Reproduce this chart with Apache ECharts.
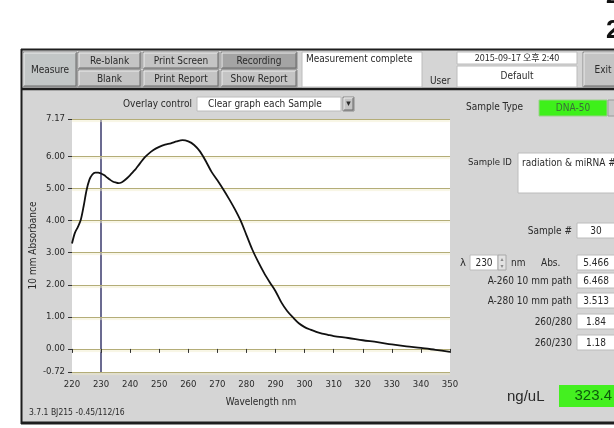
<!DOCTYPE html>
<html>
<head>
<meta charset="utf-8">
<script src="https://cdn.jsdelivr.net/npm/echarts@6/dist/echarts.min.js"></script>
<style>
html,body{margin:0;padding:0;background:#fff;}
#chart{width:614px;height:428px;}
</style>
</head>
<body>
<div id="chart"></div>
<script>
// ---- data ----
const wavelengths = [220,221,222,223,224,225,226,227,228,229,230,231,232,233,234,235,236,237,238,239,240,241,242,243,244,245,246,248,250,252,254,256,258,260,262,264,266,268,270,272,274,276,278,280,282,284,286,288,290,292,294,296,298,300,302,304,306,308,310,315,320,325,330,335,340,345,350];
const absorbance  = [3.29,3.62,3.80,4.02,4.45,4.95,5.28,5.44,5.50,5.50,5.47,5.42,5.35,5.28,5.22,5.19,5.17,5.19,5.25,5.33,5.42,5.52,5.62,5.74,5.86,5.97,6.06,6.20,6.30,6.37,6.41,6.47,6.51,6.47,6.36,6.16,5.86,5.52,5.26,4.98,4.68,4.36,4.00,3.55,3.10,2.72,2.38,2.08,1.80,1.45,1.18,0.98,0.80,0.68,0.60,0.53,0.48,0.44,0.40,0.34,0.27,0.21,0.14,0.08,0.03,-0.03,-0.09];
const yTicks = [-0.72,0,1,2,3,4,5,6,7.17];
const xMin = 220, xMax = 350, xStep = 10;
const yMin = -0.72, yMax = 7.17;
const markerWavelength = 230;

const fieldLabels = ['Sample #','A-260 10 mm path','A-280 10 mm path','260/280','260/230'];
const fieldValues = ['30','6.468','3.513','1.84','1.18'];
const absValue = '5.466';
const concentration = '323.4';

const FONT = "'Liberation Sans Narrow','DejaVu Sans Condensed','Liberation Sans',Arial,sans-serif";
const TXT = '#2a2a2a';

function txt(x,y,text,opts){
  opts = opts||{};
  return {type:'text', x:x, y:y, silent:true, z:opts.z||20, style:{text:text, fill:opts.color||TXT, font:(opts.weight||'normal')+' '+(opts.size||10)+'px '+(opts.family||FONT), align:opts.align||'left', verticalAlign:'middle'}};
}
function rect(x,y,w,h,fill,stroke,lw,z){
  return {type:'rect', shape:{x:x,y:y,width:w,height:h}, silent:true, z:z||10, style:{fill:fill, stroke:stroke||null, lineWidth:lw||1}};
}
function button(x,y,w,h,label,fill){
  return [
    rect(x,y,w,h,fill||'#c4c4c4','#8a8a8a',1,10),
    {type:'polyline', silent:true, z:11, shape:{points:[[x+1,y+h-1],[x+1,y+1],[x+w-1,y+1]]}, style:{stroke:'#ececec',lineWidth:1,fill:null}},
    {type:'polyline', silent:true, z:11, shape:{points:[[x+1,y+h-1],[x+w-1,y+h-1],[x+w-1,y+1]]}, style:{stroke:'#6a6a6a',lineWidth:1,fill:null}},
    txt(x+w/2,y+h/2+0.5,label,{align:'center',size:10})
  ];
}

const g = [];
// gray panel and frame
g.push(rect(21,49,600,375,'#d5d5d5',null,0,1));
g.push({type:'line',silent:true,z:2,shape:{x1:21,y1:49.5,x2:614,y2:49.5},style:{stroke:'#1e1e1e',lineWidth:2}});
g.push({type:'line',silent:true,z:2,shape:{x1:21.5,y1:49,x2:21.5,y2:424},style:{stroke:'#1e1e1e',lineWidth:2}});
g.push({type:'line',silent:true,z:2,shape:{x1:21,y1:423,x2:614,y2:423},style:{stroke:'#1e1e1e',lineWidth:3}});
g.push({type:'line',silent:true,z:2,shape:{x1:21,y1:89,x2:614,y2:89},style:{stroke:'#1e1e1e',lineWidth:2.5}});
// big cut-off text at top right
g.push(txt(606,-4,'2',{size:24,weight:'bold',color:'#111',family:'Arial,sans-serif'}));
g.push(txt(606,31,'2',{size:26,weight:'bold',color:'#111',family:'Arial,sans-serif'}));
// toolbar
g.push(...button(23,52,54,35,'Measure','#c2c6c6'));
g.push(...button(78,52,63,17,'Re-blank'));
g.push(...button(78,70,63,17,'Blank'));
g.push(...button(143,52,76,17,'Print Screen'));
g.push(...button(143,70,76,17,'Print Report'));
g.push(...button(221,52,76,17,'Recording','#a4a4a4'));
g.push(...button(221,70,76,17,'Show Report'));
g.push(rect(302,52,120,35,'#ffffff','#bcbcbc',1,10));
g.push(txt(306,59,'Measurement complete',{size:10}));
g.push(txt(430,81,'User',{size:10}));
g.push(rect(457,52,120,12,'#ffffff','#bcbcbc',1,10));
g.push(txt(517,58,'2015-09-17 오후 2:40',{align:'center',size:9,family:"'Liberation Sans Narrow','Noto Sans CJK KR',sans-serif"}));
g.push(rect(457,66,120,21,'#ffffff','#bcbcbc',1,10));
g.push(txt(517,76,'Default',{align:'center',size:10}));
g.push(...button(583,52,40,35,'Exit'));
// overlay control
g.push(txt(192,104,'Overlay control',{align:'right',size:10}));
g.push(rect(197,97,144,14,'#ffffff','#bcbcbc',1,10));
g.push(txt(208,104,'Clear graph each Sample',{size:10}));
g.push(...button(343,97,11,14,''));
g.push(txt(348.5,104,'▾',{align:'center',size:9,family:'DejaVu Sans'}));
// right panel
g.push(txt(466,107,'Sample Type',{size:10}));
g.push(rect(539,100,68,16,'#3ef01a','#9ad08a',1,10));
g.push(txt(573,108,'DNA-50',{align:'center',size:10,color:'#3a6a3a'}));
g.push(rect(608,100,8,16,'#c8c8c8','#9a9a9a',1,10));
g.push(txt(468,163,'Sample ID',{size:9.5}));
g.push(rect(518,153,100,40,'#ffffff','#bcbcbc',1,10));
g.push(txt(522,163,'radiation & miRNA #',{size:10}));
// lambda row
g.push(txt(460,263,'λ',{size:10,family:'DejaVu Sans'}));
g.push(rect(470,255,28,15,'#ffffff','#bcbcbc',1,10));
g.push(txt(484,263,String(markerWavelength),{align:'center',size:10}));
g.push(rect(498,255,8,15,'#e2e2e2','#a8a8a8',1,10));
g.push(txt(502,259,'▴',{align:'center',size:6,family:'DejaVu Sans',color:'#888'}));
g.push(txt(502,266,'▾',{align:'center',size:6,family:'DejaVu Sans',color:'#888'}));
g.push(txt(511,263,'nm',{size:10}));
g.push(txt(541,263,'Abs.',{size:10}));
g.push(rect(577,255,40,15,'#ffffff','#bcbcbc',1,10));
g.push(txt(596,263,absValue,{align:'center',size:10}));
// numeric fields
const fieldY = [231,281,301,322,343];
fieldLabels.forEach((lab,i)=>{
  const y = fieldY[i];
  g.push(txt(572,y,lab,{align:'right',size:10}));
  g.push(rect(577,y-8,40,15,'#ffffff','#bcbcbc',1,10));
  g.push(txt(596,y,fieldValues[i],{align:'center',size:10}));
});
g.push(txt(507,397,'ng/uL',{size:15,family:"'Liberation Sans',Arial,sans-serif"}));
g.push(rect(559,385,60,22,'#44f020',null,0,10));
g.push(txt(612,396,concentration,{align:'right',size:15,color:'#0c5a0c',family:"'Liberation Sans',Arial,sans-serif"}));
// footer
g.push(txt(29,413,'3.7.1 BJ215 -0.45/112/16',{size:8.5}));

const seriesData = wavelengths.map((w,i)=>[w, absorbance[i]]);

const chart = echarts.init(document.getElementById('chart'), null, {renderer:'canvas'});
chart.setOption({
  animation:false,
  backgroundColor:'#ffffff',
  graphic: g,
  grid:{left:72, top:119, width:378, height:253, show:true, backgroundColor:'#ffffff', borderWidth:0, z:5},
  xAxis:{
    type:'value', min:xMin, max:xMax, interval:xStep, z:6,
    name:'Wavelength nm', nameLocation:'middle', nameGap:25,
    nameTextStyle:{color:TXT, fontSize:10, fontFamily:FONT},
    axisLine:{show:false},
    axisTick:{show:true, length:4, lineStyle:{color:'#333', width:1}},
    axisLabel:{color:TXT, fontSize:9.5, fontFamily:FONT, margin:8},
    splitLine:{show:false}
  },
  yAxis:{
    type:'value', min:yMin, max:yMax, z:6,
    name:'10 mm Absorbance', nameLocation:'middle', nameGap:34, nameMoveOverlap:false,
    nameTextStyle:{color:TXT, fontSize:10, fontFamily:FONT},
    axisLine:{show:false},
    axisTick:{show:true, length:4, customValues:yTicks, lineStyle:{color:'#333', width:1}},
    axisLabel:{color:TXT, fontSize:9.5, fontFamily:FONT, margin:7, customValues:yTicks,
      formatter:v=>v.toFixed(2)},
    splitLine:{show:true, lineStyle:{color:'#b4ad78', width:1.2, shadowColor:'#f0ecc8', shadowOffsetY:1.5, shadowBlur:1}}
  },
  series:[{
    type:'line', data:seriesData, showSymbol:false, smooth:0.3, z:8,
    lineStyle:{color:'#111', width:1.8},
    markLine:{silent:true, symbol:'none', label:{show:false},
      lineStyle:{color:'#3a3a6c', width:1.5, type:'solid'},
      data:[{xAxis:markerWavelength}]}
  }]
});
</script>
</body>
</html>
